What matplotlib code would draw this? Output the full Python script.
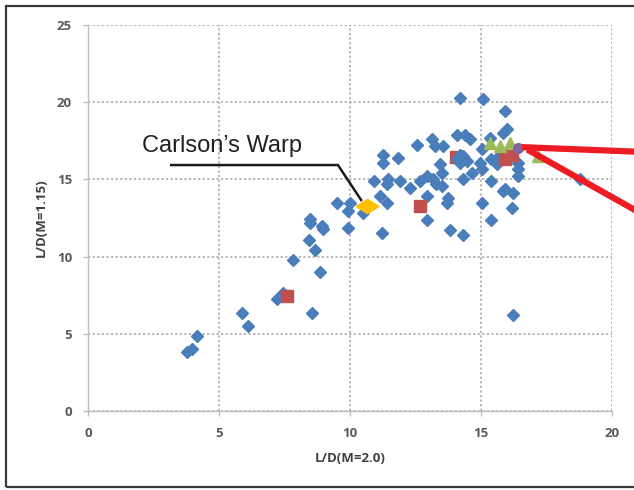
import matplotlib
matplotlib.use('Agg')
import matplotlib.pyplot as plt
from matplotlib.patches import Rectangle

# blue diamonds: L/D at M=2.0 vs L/D at M=1.15
blue_x = [3.77, 3.96, 4.15, 5.88, 6.11, 7.20, 7.43, 7.84, 8.56, 8.85, 8.66, 8.45,
          8.47, 8.47, 8.92, 8.98,
          9.49, 9.94, 10.00, 10.50, 9.94, 10.90, 11.27, 11.27, 11.84, 11.46, 11.40,
          11.90, 11.15, 11.40, 11.21, 12.29, 12.67, 12.93, 13.18, 13.30, 13.44, 13.50,
          12.54, 13.12, 13.24, 13.56, 12.93, 12.93, 13.75, 13.69, 13.82, 14.33,
          14.20, 15.09, 15.92, 14.07, 14.39, 14.58, 15.85, 15.98, 15.34, 14.20, 14.33,
          14.45, 15.03, 15.73, 14.96, 15.03, 14.20, 14.33, 15.40, 15.92, 16.23, 16.17,
          16.42, 16.42, 16.42, 15.03, 15.40, 16.21, 18.78,
          14.64, 15.60, 15.40, 13.50, 14.07, 15.84]
blue_y = [3.80, 4.00, 4.83, 6.34, 5.51, 7.25, 7.62, 9.80, 6.34, 9.00, 10.42, 11.05,
          12.42, 12.15, 11.97, 11.80,
          13.45, 12.94, 13.49, 12.84, 11.86, 14.90, 16.60, 16.08, 16.40, 15.00, 14.68,
          14.90, 13.92, 13.49, 11.54, 14.46, 14.90, 15.20, 15.00, 14.68, 15.97, 15.40,
          17.23, 17.60, 17.16, 17.16, 13.92, 12.40, 13.81, 13.49, 11.75, 11.43,
          20.30, 20.20, 19.44, 17.90, 17.90, 17.60, 18.03, 18.25, 17.70, 16.60, 16.50,
          16.20, 16.95, 16.60, 16.08, 15.65, 16.08, 15.00, 14.90, 14.35, 14.14, 13.16,
          16.08, 15.65, 15.20, 13.49, 12.40, 6.23, 15.00,
          15.43, 15.97, 16.30, 14.56, 16.30, 14.24]

# red squares; the one at 14.07 sits mostly behind the blue diamonds
red_x = [7.61, 12.67, 15.90, 16.20]
red_y = [7.42, 13.30, 16.30, 16.60]
red_hidden_x = [14.05]
red_hidden_y = [16.45]

green_x = [15.34, 15.73, 16.10, 17.19]
green_y = [17.38, 17.16, 17.38, 16.50]

purple_x = [16.42]
purple_y = [17.06]

warp_x = [10.63]
warp_y = [13.30]

fig = plt.figure(figsize=(6.34, 4.90), dpi=100)
ax = fig.add_axes([88/634, 79/490, 524/634, 386/490])

ax.plot(red_hidden_x, red_hidden_y, linestyle='none', marker='s', ms=8.5, color='#c0504d', zorder=2.5)
ax.plot(blue_x, blue_y, linestyle='none', marker='D', ms=6.6, color='#4a7ebb', zorder=3)
ax.plot(red_x, red_y, linestyle='none', marker='s', ms=8.5, color='#c0504d', zorder=4)
ax.plot(green_x, green_y, linestyle='none', marker='^', ms=8.5, color='#9bbb59', zorder=5)
ax.plot(purple_x, purple_y, linestyle='none', marker='o', ms=7, color='#8064a2', zorder=5)
flat_diamond = [(-1, 0), (0, 0.62), (1, 0), (0, -0.62), (-1, 0)]
ax.plot(warp_x, warp_y, linestyle='none', marker=flat_diamond, ms=16.5, color='#ffc000', zorder=6)

ax.set_xlim(0, 20)
ax.set_ylim(0, 25)
ax.set_xticks([0, 5, 10, 15, 20])
ax.set_yticks([0, 5, 10, 15, 20, 25])
ax.grid(True, color='#a6a6a6', linestyle=(0, (1.5, 1.5)), linewidth=1.1)
ax.set_axisbelow(True)
for s in ['top', 'right']:
    ax.spines[s].set_visible(False)
for s in ['left', 'bottom']:
    ax.spines[s].set_color('#bfbfbf')
    ax.spines[s].set_linewidth(1.0)
ax.tick_params(colors='#bfbfbf', labelcolor='#595959', length=3.5, width=1.0,
               pad=8, labelsize=9.5)
for lab in ax.get_xticklabels() + ax.get_yticklabels():
    lab.set_fontweight('bold')
    lab.set_family('Open Sans')

ax.set_xlabel('L/D(M=2.0)', fontsize=9.5, fontweight='bold', color='#404040', family='Open Sans')
ax.set_ylabel('L/D(M=1.15)', fontsize=9.5, fontweight='bold', color='#404040', family='Open Sans')
ax.xaxis.set_label_coords(0.5, -0.105)
ax.yaxis.set_label_coords(-0.077, 0.5)

# Carlson's Warp callout
ax.text(5.11, 17.14, 'Carlson\u2019s Warp', fontsize=17, family='Liberation Sans',
        color='#231f20', ha='center', va='center')
ax.plot([3.13, 9.54, 10.45], [15.93, 15.93, 13.6], color='#1a1a1a', lw=1.8,
        clip_on=False, zorder=5, solid_capstyle='butt')

# red pointer lines running off the right edge
ax.plot([16.68, 21.45], [17.08, 16.76], color='#ed1c24', lw=4.5, clip_on=False, zorder=7)
ax.plot([16.87, 21.45], [16.84, 12.47], color='#ed1c24', lw=4.5, clip_on=False, zorder=7)

# outer frame
fig.patches.append(Rectangle((6/634, 3/490), 1.1, 481/490, transform=fig.transFigure,
                             fill=False, edgecolor='#3a3a3a', linewidth=1.6))

fig.savefig('out.png', dpi=100)
plt.close(fig)
